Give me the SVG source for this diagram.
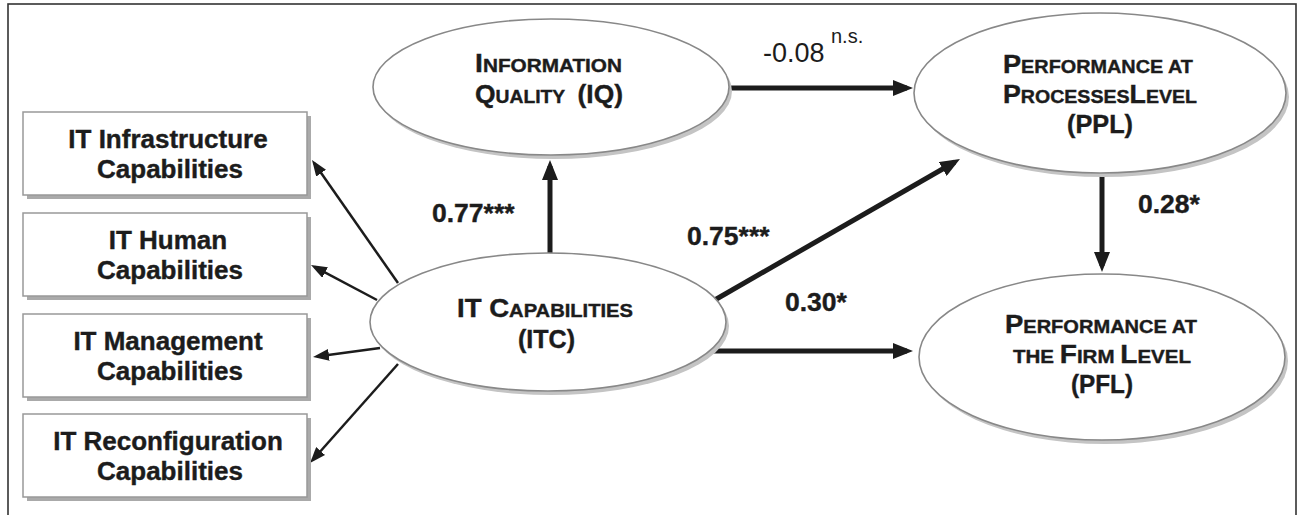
<svg xmlns="http://www.w3.org/2000/svg" width="1299" height="515" viewBox="0 0 1299 515">
<style>
.frame{fill:none;stroke:#333;stroke-width:1.6}
.box{fill:#fff;stroke:#999;stroke-width:1.5}
.bshadow{fill:#aaa}
.ell{fill:#fff;stroke:#888;stroke-width:1.6}
.eshadow{fill:#c4c4c4}
.t{font-family:"Liberation Sans",Arial,sans-serif;font-weight:bold;fill:#1c1c1c;stroke:#1c1c1c;stroke-width:0.4;text-anchor:middle}
.bt{font-size:26px}
.big{font-size:26px}
.sm{font-size:19px}
.lbl{font-family:"Liberation Sans",Arial,sans-serif;font-weight:bold;font-size:26.5px;fill:#1c1c1c;stroke:#1c1c1c;stroke-width:0.4}
.reg{font-family:"Liberation Sans",Arial,sans-serif;fill:#1c1c1c}
.thin{stroke:#1c1c1c;stroke-width:2.5;fill:none}
.thick{stroke:#1c1c1c;stroke-width:5;fill:none}
</style>
<defs>
<marker id="ah" markerUnits="userSpaceOnUse" markerWidth="20" markerHeight="16" refX="14" refY="8" orient="auto"><path d="M0,0 L20,8 L0,16 z" fill="#1c1c1c"/></marker>
<marker id="ahs" markerUnits="userSpaceOnUse" markerWidth="16" markerHeight="12" refX="12" refY="6" orient="auto"><path d="M0,0 L16,6 L0,12 z" fill="#1c1c1c"/></marker>
</defs>
<rect class="frame" x="8" y="4" width="1288" height="530"/>

<g id="connectors">
<line class="thin" x1="398" y1="283" x2="314.3" y2="163.3" marker-end="url(#ahs)"/>
<line class="thin" x1="377" y1="300" x2="314.5" y2="266.9" marker-end="url(#ahs)"/>
<line class="thin" x1="380" y1="348" x2="317" y2="356.5" marker-end="url(#ahs)"/>
<line class="thin" x1="398" y1="364" x2="312.7" y2="460" marker-end="url(#ahs)"/>
<line class="thick" x1="550" y1="253" x2="550" y2="166" marker-end="url(#ah)"/>
<line class="thick" x1="729" y1="88" x2="907" y2="88" marker-end="url(#ah)"/>
<line class="thick" x1="713" y1="301" x2="954.8" y2="162" marker-end="url(#ah)"/>
<line class="thick" x1="712" y1="351" x2="907" y2="351" marker-end="url(#ah)"/>
<line class="thick" x1="1102" y1="176" x2="1102" y2="266" marker-end="url(#ah)"/>
<text class="lbl" x="432" y="222">0.77***</text>
<text class="lbl" x="687" y="245">0.75***</text>
<text class="lbl" x="785" y="311">0.30*</text>
<text class="lbl" x="1138" y="213">0.28*</text>
<text class="reg" x="763" y="62" font-size="27">-0.08</text>
<text class="reg" x="831" y="43" font-size="20">n.s.</text>
</g>

<g id="box-infra">
<rect class="bshadow" x="27" y="116" width="284" height="83"/>
<rect class="box" x="23" y="112" width="284" height="83"/>
<text class="t bt" x="168" y="148">IT Infrastructure</text>
<text class="t bt" x="170" y="178">Capabilities</text>
</g>
<g id="box-human">
<rect class="bshadow" x="27" y="217" width="284" height="83"/>
<rect class="box" x="23" y="213" width="284" height="83"/>
<text class="t bt" x="168" y="249">IT Human</text>
<text class="t bt" x="170" y="279">Capabilities</text>
</g>
<g id="box-mgmt">
<rect class="bshadow" x="27" y="318" width="284" height="83"/>
<rect class="box" x="23" y="314" width="284" height="83"/>
<text class="t bt" x="168" y="350">IT Management</text>
<text class="t bt" x="170" y="380">Capabilities</text>
</g>
<g id="box-reconf">
<rect class="bshadow" x="27" y="418" width="284" height="83"/>
<rect class="box" x="23" y="414" width="284" height="83"/>
<text class="t bt" x="168" y="450">IT Reconfiguration</text>
<text class="t bt" x="170" y="480">Capabilities</text>
</g>

<g id="node-iq">
<ellipse class="eshadow" cx="554" cy="91" rx="178" ry="68"/>
<ellipse class="ell" cx="551" cy="87" rx="178" ry="68"/>
<text class="t" x="548.5" y="72" textLength="147" lengthAdjust="spacingAndGlyphs"><tspan class="big">I</tspan><tspan class="sm">NFORMATION</tspan></text>
<text class="t" x="549" y="103" textLength="148" lengthAdjust="spacingAndGlyphs" xml:space="preserve"><tspan class="big">Q</tspan><tspan class="sm">UALITY </tspan><tspan class="big"> (IQ)</tspan></text>
</g>
<g id="node-itc">
<ellipse class="eshadow" cx="551" cy="326" rx="178" ry="69"/>
<ellipse class="ell" cx="548" cy="322" rx="178" ry="69"/>
<text class="t" x="545" y="317" textLength="176" lengthAdjust="spacingAndGlyphs"><tspan class="big">IT C</tspan><tspan class="sm">APABILITIES</tspan></text>
<text class="t big" x="546.5" y="348" textLength="57" lengthAdjust="spacingAndGlyphs">(ITC)</text>
</g>
<g id="node-ppl">
<ellipse class="eshadow" cx="1103" cy="97" rx="186" ry="80"/>
<ellipse class="ell" cx="1100" cy="93" rx="186" ry="80"/>
<text class="t" x="1098" y="73" textLength="190" lengthAdjust="spacingAndGlyphs"><tspan class="big">P</tspan><tspan class="sm">ERFORMANCE AT</tspan></text>
<text class="t" x="1100" y="103" textLength="194" lengthAdjust="spacingAndGlyphs"><tspan class="big">P</tspan><tspan class="sm">ROCESSES</tspan><tspan class="big">L</tspan><tspan class="sm">EVEL</tspan></text>
<text class="t big" x="1100" y="133" textLength="66" lengthAdjust="spacingAndGlyphs">(PPL)</text>
</g>
<g id="node-pfl">
<ellipse class="eshadow" cx="1105" cy="361" rx="183" ry="83"/>
<ellipse class="ell" cx="1102" cy="357" rx="183" ry="83"/>
<text class="t" x="1101" y="333" textLength="192" lengthAdjust="spacingAndGlyphs"><tspan class="big">P</tspan><tspan class="sm">ERFORMANCE AT</tspan></text>
<text class="t" x="1102" y="363" textLength="178" lengthAdjust="spacingAndGlyphs"><tspan class="sm">THE </tspan><tspan class="big">F</tspan><tspan class="sm">IRM </tspan><tspan class="big">L</tspan><tspan class="sm">EVEL</tspan></text>
<text class="t big" x="1102" y="393" textLength="62" lengthAdjust="spacingAndGlyphs">(PFL)</text>
</g>
</svg>
